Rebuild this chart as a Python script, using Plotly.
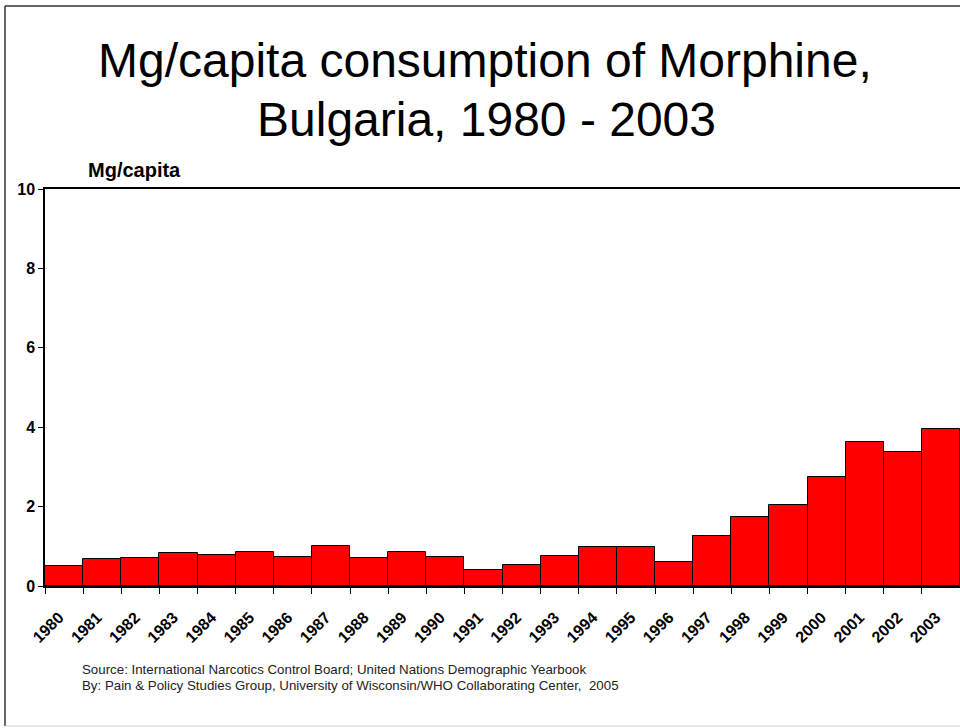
import plotly.graph_objects as go

years = [str(y) for y in range(1980, 2004)]
mg_per_capita = [0.50, 0.67, 0.70, 0.82, 0.77, 0.85, 0.73, 1.02, 0.70, 0.85, 0.73, 0.40,
                 0.53, 0.76, 0.97, 0.97, 0.61, 1.26, 1.74, 2.03, 2.74, 3.62, 3.38, 3.95]
y_ticks = [0, 2, 4, 6, 8, 10]

title_line1 = "Mg/capita consumption of Morphine,"
title_line2 = "Bulgaria, 1980 - 2003"
y_title = "Mg/capita"
source_lines = ["Source: International Narcotics Control Board; United Nations Demographic Yearbook",
                "By: Pain &amp; Policy Studies Group, University of Wisconsin/WHO Collaborating Center,  2005"]

W, H = 960, 728
L, R, T = 45, 0, 189
PH = 397
B = H - T - PH
PW = W - L - R

def px_x(px):
    return (px - L) / PW

def px_y(py):
    return (T + PH - py) / PH

FONT = "Liberation Sans, Arial, sans-serif"

fig = go.Figure()
fig.add_trace(go.Bar(
    x=years, y=mg_per_capita,
    marker=dict(color="#FF0000", line=dict(color="black", width=1)),
    showlegend=False,
))

annotations = [
    dict(text=title_line1, x=px_x(485), y=px_y(61), xref="paper", yref="paper",
         xanchor="center", yanchor="middle", showarrow=False,
         font=dict(family=FONT, size=48, color="black")),
    dict(text=title_line2, x=px_x(486), y=px_y(119), xref="paper", yref="paper",
         xanchor="center", yanchor="middle", showarrow=False,
         font=dict(family=FONT, size=48, color="black")),
    dict(text=y_title, x=px_x(134), y=px_y(170), xref="paper", yref="paper",
         xanchor="center", yanchor="middle", showarrow=False,
         font=dict(family=FONT, size=20, color="black", weight="bold")),
    dict(text=source_lines[0], x=px_x(80), y=px_y(669), xref="paper", yref="paper",
         xanchor="left", yanchor="middle", showarrow=False,
         font=dict(family=FONT, size=13.3, color="#222222")),
    dict(text=source_lines[1], x=px_x(80), y=px_y(685), xref="paper", yref="paper",
         xanchor="left", yanchor="middle", showarrow=False,
         font=dict(family=FONT, size=13.3, color="#222222")),
]

shapes = [
    dict(type="line", xref="paper", yref="paper", x0=px_x(5), x1=px_x(965), y0=px_y(6), y1=px_y(6),
         line=dict(color="#333333", width=1.5)),
    dict(type="line", xref="paper", yref="paper", x0=px_x(5), x1=px_x(5), y0=px_y(6), y1=px_y(726),
         line=dict(color="#333333", width=1.5)),
    dict(type="line", xref="paper", yref="paper", x0=px_x(5), x1=px_x(965), y0=px_y(726), y1=px_y(726),
         line=dict(color="#cccccc", width=1)),
]

fig.update_layout(
    width=W, height=H,
    margin=dict(l=L, r=R, t=T, b=B, pad=0),
    paper_bgcolor="white", plot_bgcolor="white",
    bargap=0,
    annotations=annotations,
    shapes=shapes,
    font=dict(family=FONT, color="black"),
)
fig.update_xaxes(
    type="category", tickson="boundaries", ticks="outside", ticklen=6, tickwidth=1,
    tickcolor="black", tickangle=-45, showline=True, linecolor="black", linewidth=1.5,
    mirror=True, showgrid=False, ticklabelstandoff=14, ticklabelshift=-5,
    tickfont=dict(family=FONT, size=16, color="black", weight="bold"),
)
fig.update_yaxes(
    range=[0, 10], tickvals=y_ticks, ticks="outside", ticklen=5, tickwidth=1,
    tickcolor="black", showline=True, linecolor="black", linewidth=1.5,
    showgrid=False, zeroline=False,
    tickfont=dict(family=FONT, size=16, color="black", weight="bold"),
)

fig.write_html("out.html", config={"displayModeBar": False},
               post_script="document.body.style.margin='0';document.body.style.overflow='hidden';")
